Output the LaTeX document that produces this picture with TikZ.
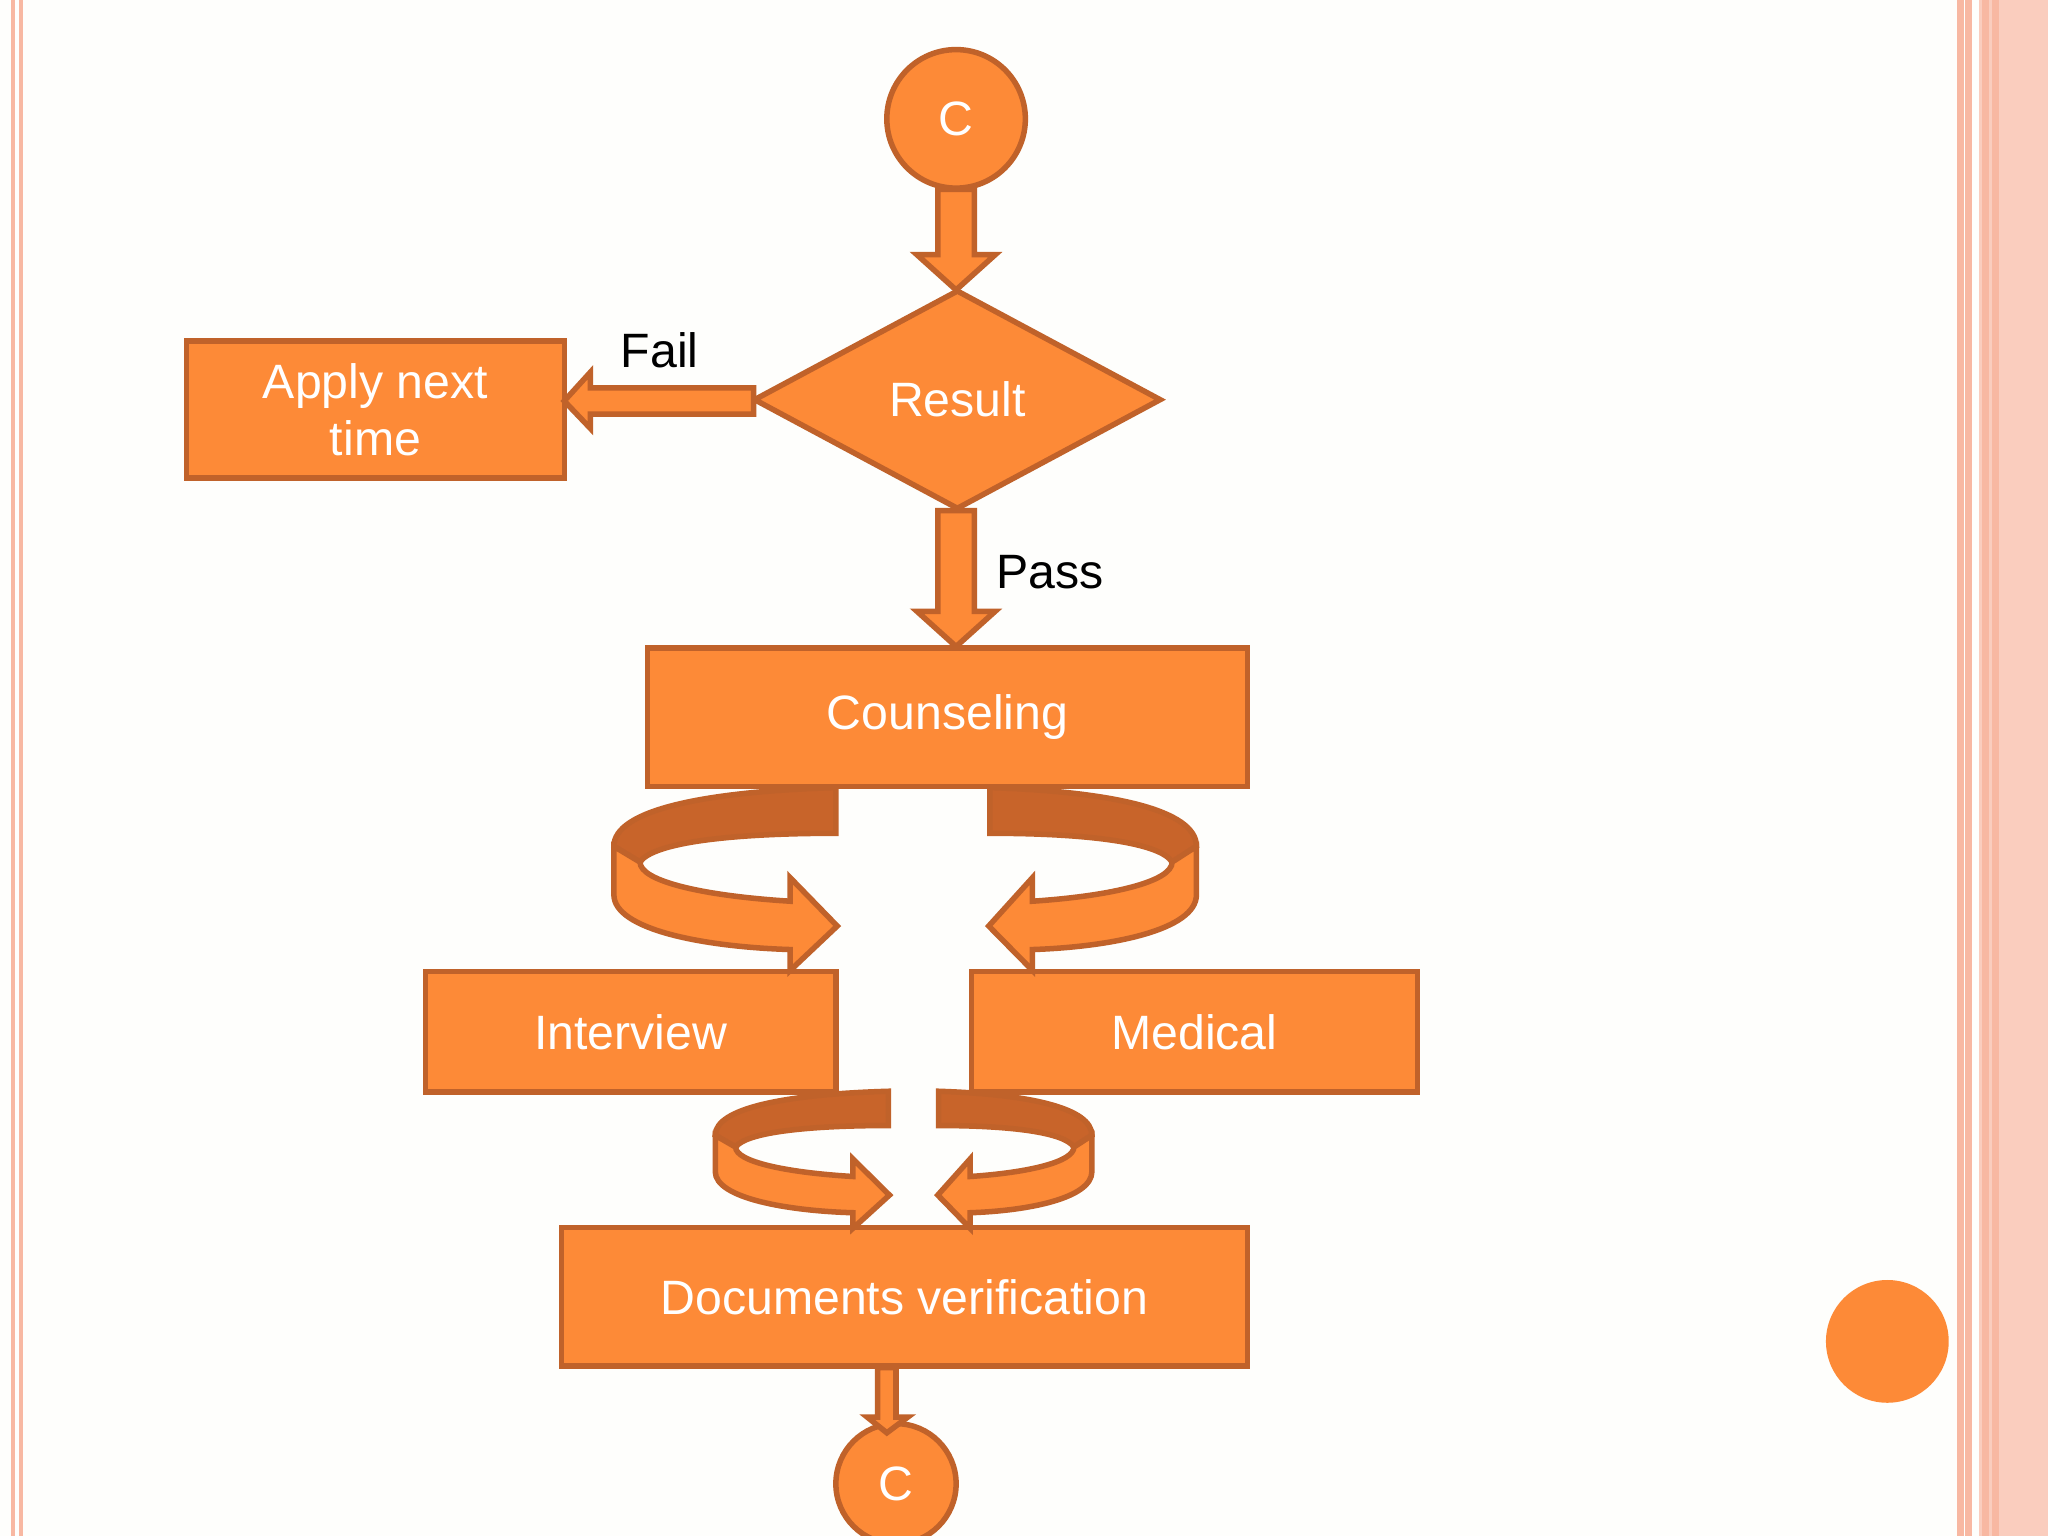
\documentclass[tikz,border=0pt]{standalone}
\usepackage{fontspec}
\setmainfont{Liberation Sans}
\usetikzlibrary{shapes.geometric}
\begin{document}
\begin{tikzpicture}[x=0.01cm,y=-0.01cm,
  shp/.style={fill=orgF,draw=orgD,line width=1.2pt},
  txt/.style={text=white,font=\fontsize{10.5}{12.5}\selectfont,align=center},
  lbl/.style={text=black,font=\fontsize{10.5}{12.5}\selectfont}]
\definecolor{orgF}{HTML}{FD8A37}
\definecolor{orgD}{HTML}{C0622A}
\definecolor{orgB}{HTML}{C8642A}
\definecolor{pnk}{HTML}{F8B8A2}
\definecolor{bg}{HTML}{FEFEFC}
\fill[bg] (0,0) rectangle (1568,1176);
\useasboundingbox (0,0) rectangle (1568,1176);
% borders
\draw[pnk,line width=1pt] (10,0)--(10,1176) (16,0)--(16,1176);
\draw[pnk,line width=1.5pt] (1501,0)--(1501,1176) (1507,0)--(1507,1176);
\fill[pnk!70] (1515,0) rectangle (1568,1176);
\draw[pnk,line width=1.5pt] (1520,0)--(1520,1176) (1528,0)--(1528,1176);
\fill[orgF] (1445,1027) circle (47);
% nodes
\node[shp,circle,minimum size=1.06cm,inner sep=0,txt] (c1) at (732,91) {C};
\node[shp,diamond,minimum width=3.12cm,minimum height=1.68cm,inner sep=0,txt] (res) at (733,306) {Result};
\node[shp,minimum width=2.89cm,minimum height=1.05cm,inner sep=0,txt] (apply) at (287.5,313.5) {Apply next\\time};
\node[shp,minimum width=4.59cm,minimum height=1.06cm,inner sep=0,txt] (coun) at (725.5,549) {Counseling};
\node[shp,minimum width=3.14cm,minimum height=0.92cm,inner sep=0,txt] (int) at (483,790) {Interview};
\node[shp,minimum width=3.41cm,minimum height=0.92cm,inner sep=0,txt] (med) at (914.5,790) {Medical};
\node[shp,minimum width=5.25cm,minimum height=1.06cm,inner sep=0,txt] (doc) at (692.5,993) {Documents verification};
\node[shp,circle,minimum size=0.92cm,inner sep=0,txt] (c2) at (686,1136) {C};
% block arrows
\draw[shp] (718,145)--(746,145)--(746,195)--(762,195)--(732,222)--(702,195)--(718,195)--cycle;
\draw[shp] (718,391)--(746,391)--(746,468)--(762,468)--(732,495)--(702,468)--(718,468)--cycle;
\draw[shp] (577,297)--(452,297)--(452,285)--(432,307)--(452,328)--(452,317)--(577,317)--cycle;
\draw[shp] (672,1047)--(686,1047)--(686,1085)--(695,1085)--(679,1097)--(664,1085)--(672,1085)--cycle;
\node[lbl] (fail) at (505,268) {Fail};
\node[lbl] (pass) at (804,438) {Pass};
% curved arrows
\newcommand{\myCurv}[3]{%
\begin{scope}[shift={(#1)},xscale=#2,yscale=#3]
\draw[shp,fill=orgB] (-1,-106) .. controls (-101,-103) and (-171,-89) .. (-171,-61) -- (-151,-49) .. controls (-141,-64) and (-81,-71) .. (-1,-71) -- cycle;
\draw[shp] (-171,-61) -- (-171,-24) .. controls (-171,3) and (-101,16) .. (-36,18) -- (-36,34) -- (0,0) -- (-36,-37) -- (-36,-19) .. controls (-101,-23) and (-151,-34) .. (-151,-49) -- cycle;
\end{scope}}
\myCurv{641,709}{1}{1}
\myCurv{757,709}{-0.93}{1}
\myCurv{681,915}{0.78}{0.75}
\myCurv{718,915}{-0.69}{0.75}
\end{tikzpicture}
\end{document}
